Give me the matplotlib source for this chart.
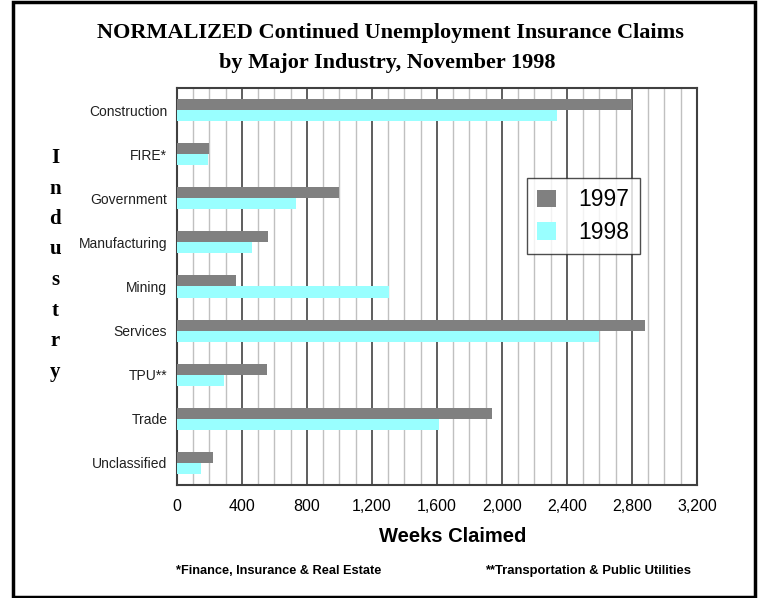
import numpy as np
import matplotlib.pyplot as plt
from matplotlib.patches import Rectangle

# data (weeks claimed)
industries = ["Construction", "FIRE*", "Government", "Manufacturing", "Mining",
              "Services", "TPU**", "Trade", "Unclassified"]
claims_1997 = [2800, 200, 1000, 560, 365, 2880, 555, 1940, 220]
claims_1998 = [2340, 190, 730, 460, 1305, 2600, 290, 1610, 150]
xticks = np.arange(0, 3201, 400)

sans = ["Liberation Sans", "DejaVu Sans"]
serif = ["Liberation Serif", "DejaVu Serif"]

fig = plt.figure(figsize=(7.59, 5.98), dpi=100)
ax = fig.add_axes([0.2332, 0.189, 0.6851, 0.6639])

y = np.arange(len(industries))
h = 0.25
ax.barh(y - h / 2, claims_1997, height=h, color="#808080", label="1997", zorder=3)
ax.barh(y + h / 2, claims_1998, height=h, color="#99ffff", label="1998", zorder=3)

ax.set_xlim(0, 3200)
ax.set_ylim(len(industries) - 0.5, -0.5)

ax.set_xticks(xticks)
ax.set_xticks(np.arange(0, 3201, 100), minor=True)
ax.xaxis.grid(True, which="minor", color="#c0c0c0", lw=1.0, zorder=0)
ax.xaxis.grid(True, which="major", color="#505050", lw=1.3, zorder=1)
ax.tick_params(axis="x", which="both", length=0, pad=10)
ax.tick_params(axis="y", length=0, pad=7)
ax.set_xticklabels([f"{v:,}" for v in xticks], family=sans, fontsize=11.5)
ax.set_yticks(y)
ax.set_yticklabels(industries, family=sans, fontsize=10, color="#202020")
for s in ax.spines.values():
    s.set_color("#404040")
    s.set_linewidth(1.5)

leg = ax.legend(loc="upper left", bbox_to_anchor=(0.673, 0.773), frameon=True,
                fancybox=False, edgecolor="#202020", handlelength=0.8,
                handleheight=0.8, handletextpad=1.0, labelspacing=0.42,
                borderpad=0.45, borderaxespad=0,
                prop={"family": sans, "size": 16.5})
leg.get_frame().set_linewidth(1.0)
leg.set_zorder(5)

fig.text(0.514, 0.945, "NORMALIZED Continued Unemployment Insurance Claims",
         ha="center", va="center", family=serif, fontweight="bold", fontsize=16)
fig.text(0.51, 0.895, "by Major Industry, November 1998",
         ha="center", va="center", family=serif, fontweight="bold", fontsize=16)

for i, ch in enumerate("Industry"):
    fig.text(0.073, 1 - (158 + i * 30.5) / 598, ch, ha="center", va="center",
             family=serif, fontweight="bold", fontsize=15)

fig.text(0.596, 0.103, "Weeks Claimed", ha="center", va="center",
         family=sans, fontweight="bold", fontsize=14.5)
fig.text(0.232, 0.045, "*Finance, Insurance & Real Estate", ha="left", va="center",
         family=sans, fontweight="bold", fontsize=9.2)
fig.text(0.639, 0.045, "**Transportation & Public Utilities", ha="left", va="center",
         family=sans, fontweight="bold", fontsize=9.4)

fig.patches.append(Rectangle((13 / 759, 0.002), (755 - 13) / 759, 0.994,
                             transform=fig.transFigure, fill=False,
                             edgecolor="black", lw=2.5))

plt.savefig("out.png", dpi=100)
